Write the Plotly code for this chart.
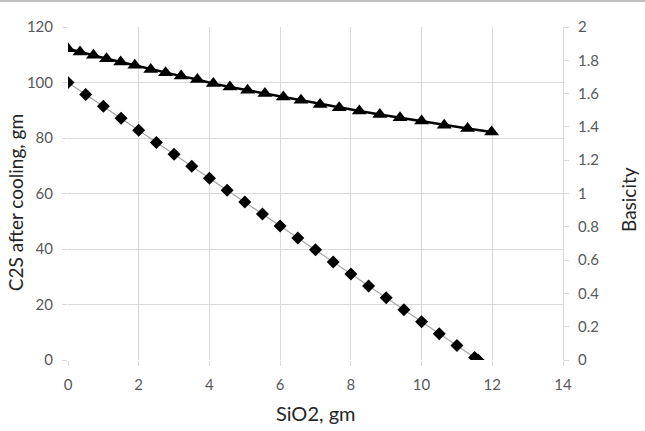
import plotly.graph_objects as go

# C2S after cooling (left axis) vs SiO2
sio2_c2s = [0, 0.5, 1.0, 1.5, 2.0, 2.5, 3.0, 3.5, 4.0, 4.5, 5.0, 5.5, 6.0,
            6.5, 7.0, 7.5, 8.0, 8.5, 9.0, 9.5, 10.0, 10.5, 11.0, 11.5, 11.6]
c2s = [100, 95.7, 91.4, 87.1, 82.8, 78.4, 74.1, 69.8, 65.5, 61.2, 56.9, 52.6,
       48.3, 44.0, 39.7, 35.3, 31.0, 26.7, 22.4, 18.1, 13.8, 9.5, 5.2, 0.9, 0]

# Basicity (right axis) vs SiO2
sio2_bas = [0, 0.34, 0.72, 1.09, 1.49, 1.89, 2.34, 2.76, 3.20, 3.66, 4.11, 4.58,
            5.08, 5.57, 6.09, 6.59, 7.13, 7.67, 8.24, 8.82, 9.39, 10.0, 10.64,
            11.30, 11.98]
basicity = [1.87, 1.85, 1.83, 1.81, 1.79, 1.77, 1.745, 1.725, 1.705, 1.685,
            1.66, 1.64, 1.62, 1.60, 1.58, 1.56, 1.535, 1.515, 1.495, 1.475,
            1.455, 1.435, 1.41, 1.39, 1.37]

x_ticks = [0, 2, 4, 6, 8, 10, 12, 14]
y_ticks = [0, 20, 40, 60, 80, 100, 120]
y2_ticks = [0, 0.2, 0.4, 0.6, 0.8, 1, 1.2, 1.4, 1.6, 1.8, 2]
y2_labels = ["0", "0.2", "0.4", "0.6", "0.8", "1", "1.2", "1.4", "1.6", "1.8", "2"]

x_title = "SiO2, gm"
y_title = "C2S after cooling, gm"
y2_title = "Basicity"

FONT = "Lato, 'Open Sans', sans-serif"
GRID = "#d9d9d9"
TICKC = "#595959"
TITLEC = "#262626"

fig = go.Figure()
fig.add_trace(go.Scatter(
    x=sio2_c2s, y=c2s, mode="lines+markers",
    line=dict(color="#a6a6a6", width=1.2),
    marker=dict(symbol="diamond", size=10, color="black"),
    showlegend=False, yaxis="y"))
fig.add_trace(go.Scatter(
    x=sio2_bas, y=basicity, mode="lines+markers",
    line=dict(color="black", width=2.5),
    marker=dict(symbol="triangle-up", size=13, color="black"),
    showlegend=False, yaxis="y2"))

fig.update_layout(
    width=645, height=431,
    margin=dict(l=68, r=82, t=27, b=71),
    paper_bgcolor="white", plot_bgcolor="white",
    font=dict(family=FONT, color=TICKC, size=15),
    xaxis=dict(range=[0, 14], tickvals=x_ticks, showgrid=True, gridcolor=GRID,
               gridwidth=1, zeroline=False, showline=False,
               ticks="outside", ticklen=5, tickcolor=GRID,
               ticklabelstandoff=6,
               tickfont=dict(size=15, color=TICKC)),
    yaxis=dict(range=[0, 120], tickvals=y_ticks, showgrid=True, gridcolor=GRID,
               gridwidth=1, zeroline=False, showline=False,
               ticks="outside", ticklen=5, tickcolor=GRID,
               ticklabelstandoff=6,
               tickfont=dict(size=15, color=TICKC)),
    yaxis2=dict(range=[0, 2], tickvals=y2_ticks, ticktext=y2_labels,
                overlaying="y", side="right", showgrid=False, zeroline=False,
                showline=True, linecolor=GRID, linewidth=1,
                ticks="outside", ticklen=5, tickcolor=GRID,
                ticklabelstandoff=6,
                tickfont=dict(size=15, color=TICKC)),
    annotations=[
        dict(text=x_title, xref="paper", yref="paper", x=0.501, y=-0.159,
             xanchor="center", yanchor="middle", showarrow=False,
             font=dict(size=20, color=TITLEC)),
        dict(text=y_title, xref="paper", yref="paper", x=-0.107, y=0.471,
             xanchor="center", yanchor="middle", showarrow=False, textangle=-90,
             font=dict(size=19, color=TITLEC)),
        dict(text=y2_title, xref="paper", yref="paper", x=1.131, y=0.483,
             xanchor="center", yanchor="middle", showarrow=False, textangle=-90,
             font=dict(size=19, color=TITLEC)),
    ],
    shapes=[dict(type="line", xref="paper", yref="paper",
                 x0=-0.2, x1=1.3, y0=1.078, y1=1.078,
                 line=dict(color="#bfbfbf", width=2))],
)

fig.write_html("out.html")
